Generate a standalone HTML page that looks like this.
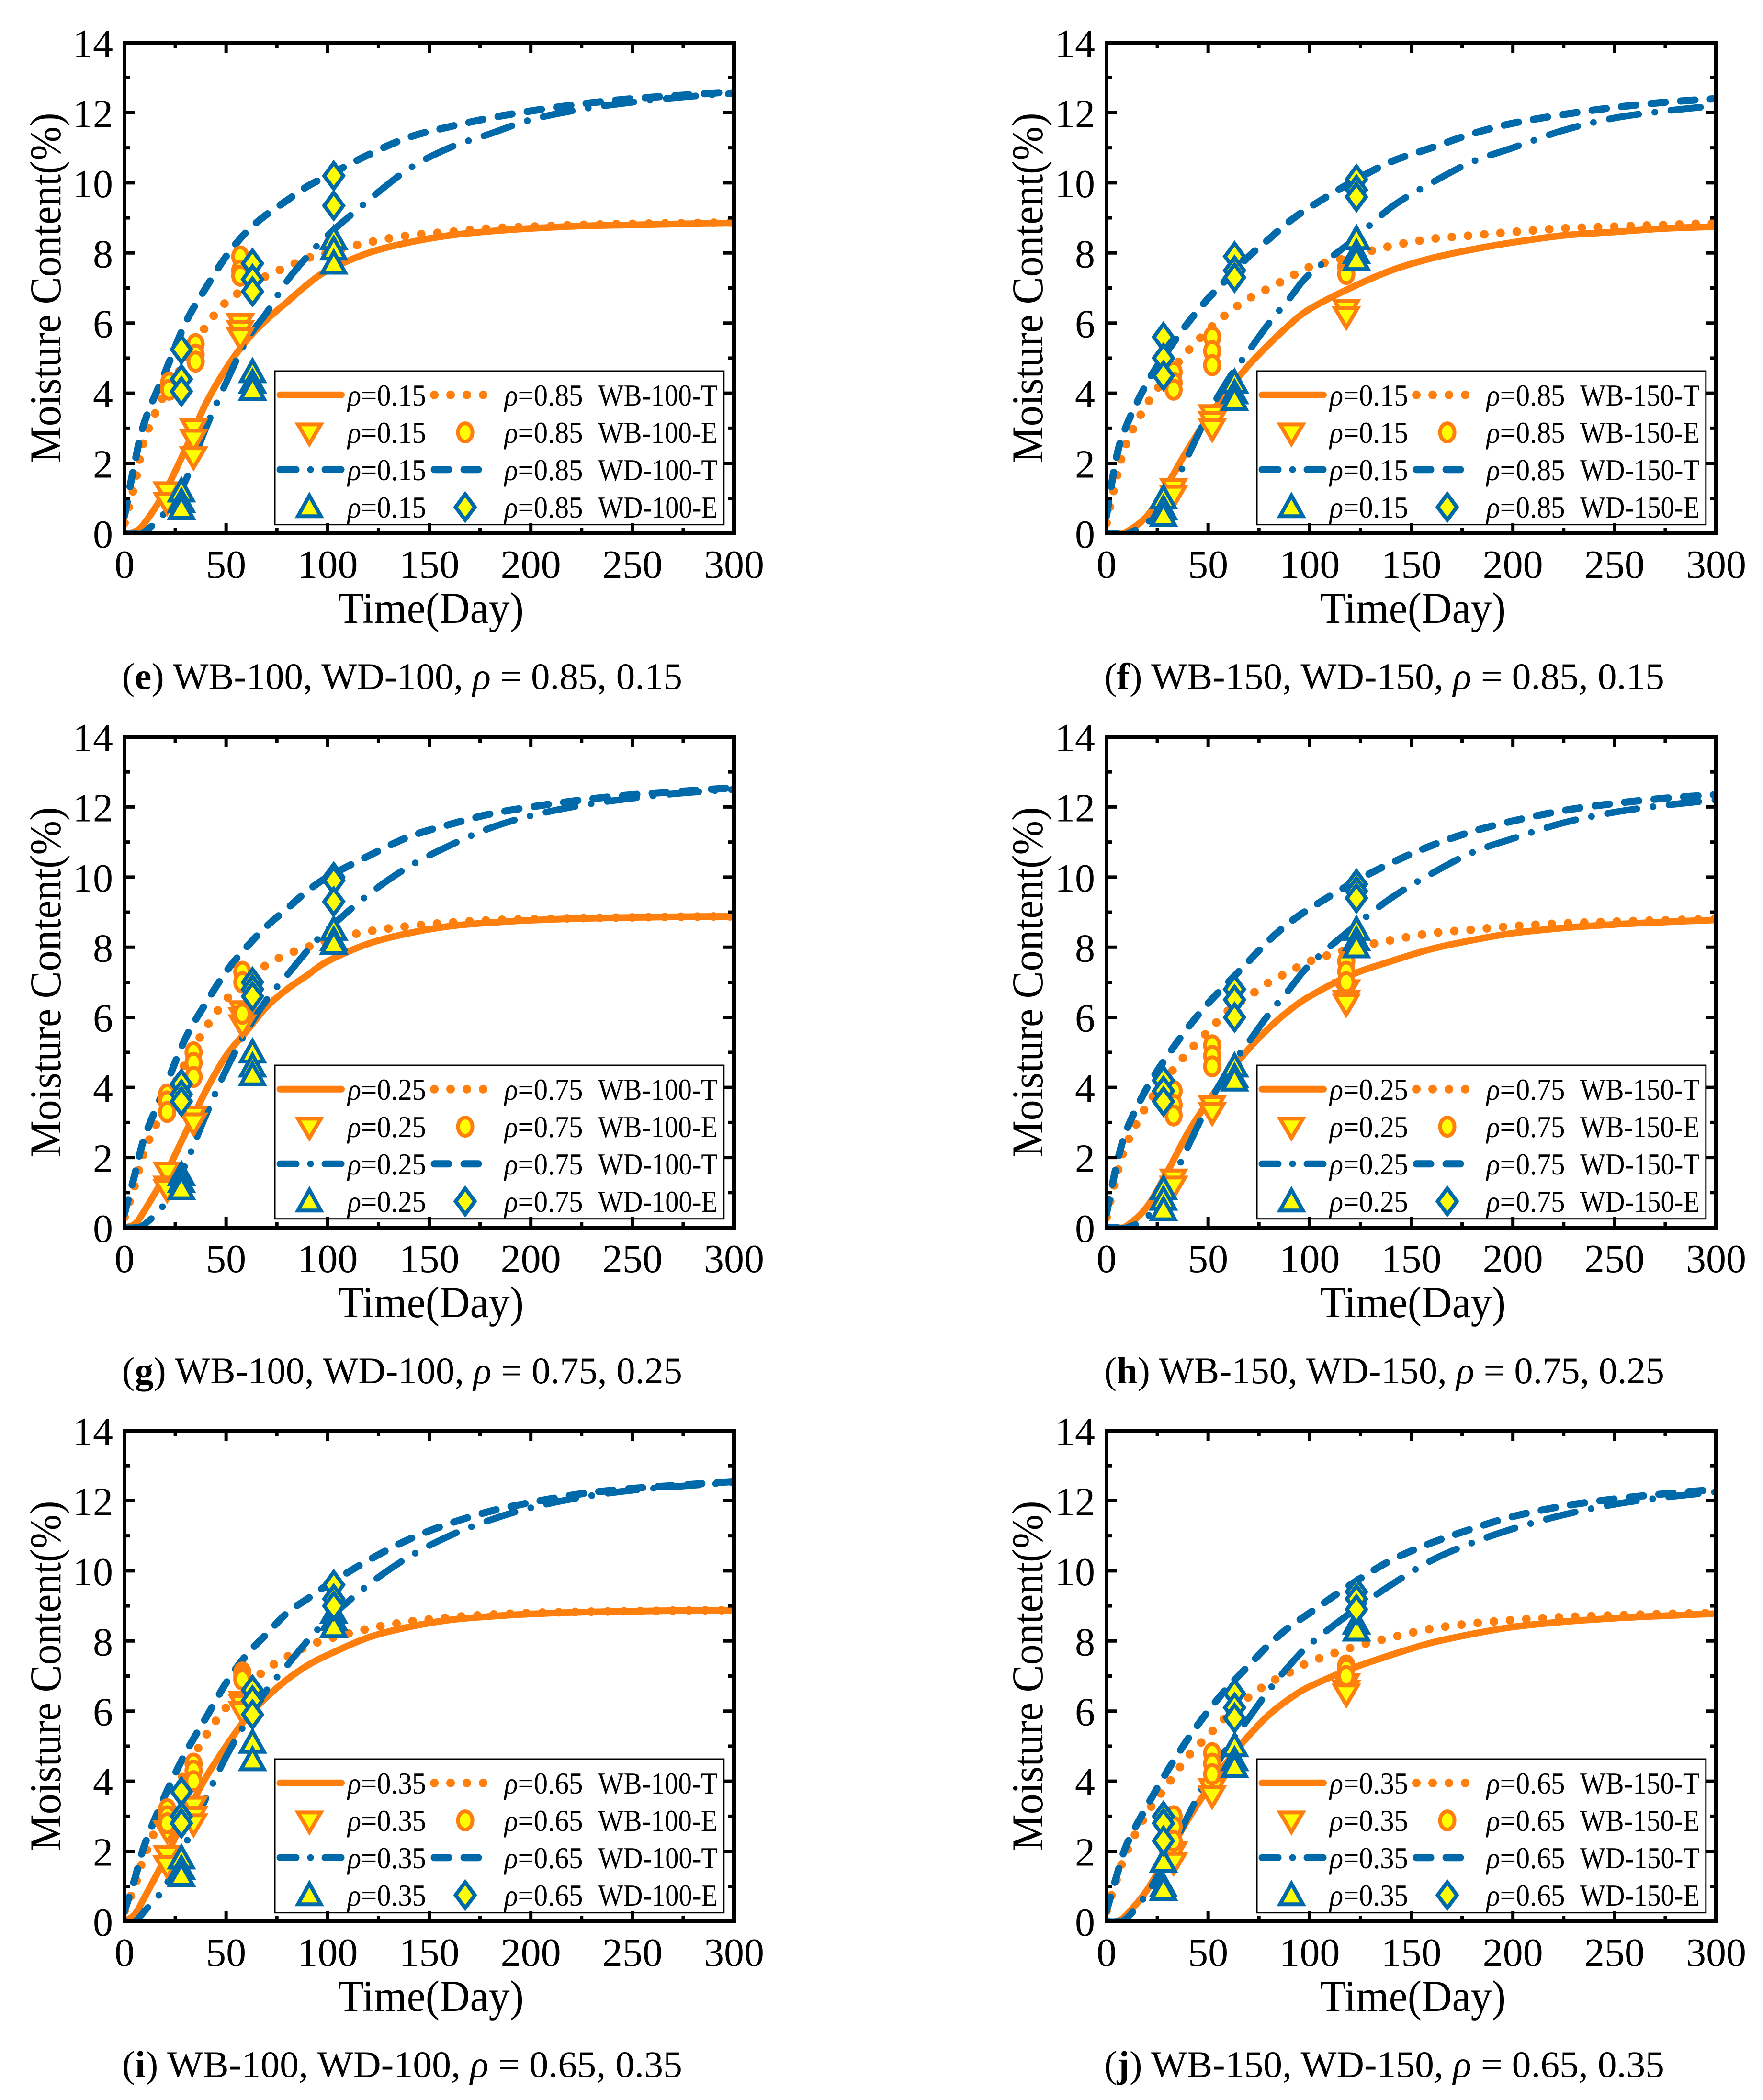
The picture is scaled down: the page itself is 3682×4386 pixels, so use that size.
<!DOCTYPE html>
<html><head><meta charset="utf-8">
<style>
html,body{margin:0;padding:0;background:#fff;}
svg{display:block;font-family:"Liberation Serif",serif;}
</style></head>
<body>
<svg id="fig" xmlns="http://www.w3.org/2000/svg" width="3682" height="4386" viewBox="0 0 3682 4386">
<rect width="3682" height="4386" fill="#fff"/>
</svg>
<script>
// ---- data ----
const days = [0,5,10,20,30,40,50,60,70,80,90,100,120,140,160,180,200,225,250,275,300];
const xTicks = [0,50,100,150,200,250,300];
const yTicks = [0,2,4,6,8,10,12,14];
const panelLetters = ['e','f','g','h','i','j'];
const panelSizes = ['100','150','100','150','100','150'];
const rhoLow = ['0.15','0.15','0.25','0.25','0.35','0.35'];
const rhoHigh = ['0.85','0.85','0.75','0.75','0.65','0.65'];

const wbLowCurve = [
 [0,0.05,0.3,1.2,2.4,3.7,4.7,5.5,6.1,6.6,7.1,7.5,8.0,8.3,8.5,8.62,8.7,8.77,8.8,8.83,8.85],
 [0,0,0.05,0.5,1.4,2.4,3.3,4.1,4.8,5.4,5.95,6.4,7.0,7.5,7.85,8.1,8.3,8.5,8.6,8.7,8.75],
 [0,0.1,0.5,1.5,2.7,3.9,4.9,5.6,6.3,6.8,7.2,7.6,8.1,8.4,8.6,8.7,8.77,8.82,8.85,8.87,8.88],
 [0,0,0.05,0.6,1.6,2.7,3.6,4.4,5.1,5.7,6.2,6.6,7.2,7.6,7.95,8.2,8.4,8.55,8.65,8.72,8.78],
 [0,0.2,0.7,1.8,3.0,4.1,5.0,5.8,6.4,6.9,7.3,7.6,8.1,8.4,8.6,8.7,8.77,8.82,8.85,8.87,8.88],
 [0,0,0.2,0.9,1.9,2.9,3.8,4.6,5.3,5.9,6.35,6.7,7.2,7.6,7.95,8.2,8.4,8.55,8.65,8.72,8.78]];
const wbHighCurve = [
 [0.3,1.4,2.7,4.0,4.9,5.9,6.6,7.0,7.35,7.6,7.85,8.0,8.3,8.5,8.6,8.7,8.75,8.8,8.83,8.85,8.87],
 [0.3,1.6,2.6,3.7,4.5,5.2,5.8,6.3,6.7,7.0,7.3,7.6,7.9,8.2,8.4,8.5,8.6,8.7,8.75,8.8,8.85],
 [0.3,1.2,2.2,3.5,4.7,5.7,6.5,7.1,7.5,7.8,8.0,8.2,8.45,8.6,8.7,8.77,8.8,8.83,8.85,8.87,8.88],
 [0.3,1.5,2.4,3.5,4.3,5.0,5.6,6.2,6.6,7.0,7.3,7.6,7.95,8.2,8.4,8.5,8.6,8.68,8.73,8.77,8.8],
 [0.3,1.0,1.9,3.2,4.3,5.3,6.1,6.7,7.2,7.55,7.85,8.05,8.35,8.55,8.67,8.75,8.8,8.83,8.85,8.87,8.88],
 [0.3,1.2,2.0,3.1,3.9,4.7,5.3,5.9,6.4,6.8,7.1,7.4,7.8,8.1,8.35,8.5,8.6,8.68,8.73,8.77,8.8]];
const wdLowCurve = [
 [0,0,0.05,0.6,1.5,3.0,4.3,5.5,6.3,7.2,7.9,8.5,9.5,10.4,11.0,11.4,11.8,12.1,12.3,12.45,12.55],
 [0,0,0,0.3,1.0,2.2,3.4,4.4,5.2,6.0,6.7,7.4,8.3,9.3,10.0,10.6,11.0,11.5,11.85,12.05,12.2],
 [0,0,0.1,0.7,1.8,3.2,4.5,5.6,6.5,7.2,7.9,8.5,9.5,10.3,10.9,11.4,11.75,12.05,12.25,12.4,12.5],
 [0,0,0,0.3,1.1,2.3,3.5,4.5,5.3,6.1,6.8,7.5,8.5,9.4,10.1,10.7,11.1,11.55,11.85,12.05,12.2],
 [0,0,0.3,1.0,2.2,3.5,4.7,5.7,6.6,7.3,8.0,8.6,9.6,10.4,11.0,11.45,11.8,12.1,12.3,12.42,12.52],
 [0,0,0.1,0.8,1.8,3.0,4.1,5.0,5.8,6.6,7.3,7.9,8.8,9.6,10.3,10.8,11.2,11.6,11.9,12.1,12.25]];
const wdHighCurve = [
 [0.5,2.0,3.2,4.6,6.0,7.0,7.9,8.6,9.1,9.5,9.9,10.2,10.8,11.3,11.6,11.85,12.05,12.25,12.4,12.5,12.6],
 [0.5,2.2,3.1,4.3,5.2,6.0,6.7,7.3,7.9,8.4,8.9,9.3,10.0,10.6,11.0,11.4,11.7,11.95,12.15,12.3,12.4],
 [0.4,1.5,2.6,4.0,5.4,6.4,7.3,8.0,8.6,9.1,9.6,10.0,10.6,11.15,11.5,11.8,12.0,12.2,12.35,12.45,12.55],
 [0.4,1.8,2.8,4.0,4.9,5.7,6.4,7.0,7.6,8.2,8.7,9.1,9.8,10.4,10.9,11.3,11.6,11.9,12.1,12.25,12.35],
 [0.3,1.2,2.2,3.6,4.8,5.8,6.8,7.6,8.2,8.8,9.2,9.6,10.3,10.9,11.35,11.7,11.95,12.2,12.35,12.45,12.55],
 [0.3,1.3,2.2,3.3,4.3,5.2,6.0,6.7,7.3,7.9,8.4,8.8,9.6,10.3,10.8,11.2,11.55,11.85,12.05,12.2,12.32]];

const wbLowPts = [
 [[21,1.2],[21,0.9],[34,3.0],[34,2.7],[34,2.2],[57,6.0],[57,5.8],[57,5.6]],
 [[33,1.3],[33,1.1],[52,3.4],[52,3.2],[52,3.0],[118,6.4],[118,6.2]],
 [[21,1.6],[21,1.2],[21,1.1],[34,3.2],[34,3.0],[58,6.2],[58,6.0],[58,5.8]],
 [[33,1.4],[33,1.2],[52,3.5],[52,3.3],[118,6.8],[118,6.5],[118,6.4]],
 [[21,2.6],[21,1.9],[21,1.6],[34,3.3],[34,3.0],[34,2.8],[58,6.3],[58,6.2],[58,6.0]],
 [[33,2.0],[33,1.7],[52,3.8],[52,3.6],[118,6.8],[118,6.6],[118,6.5]]];
const wbHighPts = [
 [[22,4.3],[22,4.1],[35,5.4],[35,5.1],[35,4.9],[57,7.9],[57,7.5],[57,7.35]],
 [[33,4.6],[33,4.3],[33,4.1],[52,5.6],[52,5.2],[52,4.8],[118,7.6],[118,7.4]],
 [[21,3.8],[21,3.6],[21,3.3],[34,5.0],[34,4.7],[34,4.3],[58,7.3],[58,7.0],[58,6.1]],
 [[33,3.9],[33,3.5],[33,3.2],[52,5.2],[52,4.9],[52,4.6],[118,7.6],[118,7.3],[118,7.0]],
 [[21,3.2],[21,3.0],[21,2.8],[34,4.5],[34,4.3],[34,4.0],[58,7.1],[58,7.0],[58,6.9]],
 [[33,3.0],[33,2.7],[33,2.3],[52,4.8],[52,4.5],[52,4.2],[118,7.3],[118,7.2],[118,7.0]]];
const wdLowPts = [
 [[28,1.2],[28,0.9],[28,0.7],[63,4.6],[63,4.3],[63,4.1],[103,8.4],[103,8.1],[103,7.7]],
 [[28,1.0],[28,0.7],[28,0.5],[63,4.3],[63,4.0],[63,3.8],[123,8.4],[123,8.0],[123,7.8]],
 [[28,1.5],[28,1.3],[28,1.1],[63,5.0],[63,4.6],[63,4.35],[103,8.5],[103,8.2],[103,8.1]],
 [[28,1.1],[28,0.8],[28,0.5],[63,4.6],[63,4.3],[63,4.2],[123,8.5],[123,8.2],[123,8.0]],
 [[28,1.8],[28,1.5],[28,1.3],[63,5.1],[63,4.6],[103,8.8],[103,8.6],[103,8.4]],
 [[28,1.7],[28,1.0],[28,0.9],[63,5.0],[63,4.6],[63,4.4],[123,8.5],[123,8.3]]];
const wdHighPts = [
 [[28,5.25],[28,4.4],[28,4.05],[63,7.7],[63,7.25],[63,6.9],[103,10.2],[103,9.35]],
 [[28,5.6],[28,5.0],[28,4.5],[63,7.9],[63,7.5],[63,7.3],[123,10.1],[123,9.8],[123,9.6]],
 [[28,4.1],[28,3.8],[28,3.6],[63,7.0],[63,6.8],[63,6.6],[103,10.0],[103,9.9],[103,9.3]],
 [[28,4.2],[28,3.9],[28,3.6],[63,6.8],[63,6.5],[63,6.0],[123,9.8],[123,9.6],[123,9.4]],
 [[28,3.7],[28,3.0],[28,2.8],[63,6.6],[63,6.3],[63,5.9],[103,9.6],[103,9.2],[103,9.0]],
 [[28,3.0],[28,2.8],[28,2.3],[63,6.5],[63,6.1],[63,5.8],[123,9.4],[123,9.2],[123,8.9]]];

// ---- drawing ----
const NS = 'http://www.w3.org/2000/svg';
const svg = document.getElementById('fig');
const ORANGE = '#FF7F0E', BLUE = '#0069AA', YEL = '#FFFF00';
const colX = [260, 2311], rowY = [89, 1539, 2988];
const W = 1273, H = 1025, XMAX = 300, YMAX = 14;

function mk(tag, attrs, parent) {
  const e = document.createElementNS(NS, tag);
  for (const k in attrs) e.setAttribute(k, attrs[k]);
  (parent || svg).appendChild(e);
  return e;
}
function smoothPath(pts) {
  let d = 'M' + pts[0][0].toFixed(1) + ',' + pts[0][1].toFixed(1);
  for (let i = 0; i < pts.length - 1; i++) {
    const p0 = pts[Math.max(0, i - 1)], p1 = pts[i], p2 = pts[i + 1], p3 = pts[Math.min(pts.length - 1, i + 2)];
    const c1x = p1[0] + (p2[0] - p0[0]) / 6, c1y = p1[1] + (p2[1] - p0[1]) / 6;
    const c2x = p2[0] - (p3[0] - p1[0]) / 6, c2y = p2[1] - (p3[1] - p1[1]) / 6;
    d += 'C' + c1x.toFixed(1) + ',' + c1y.toFixed(1) + ' ' + c2x.toFixed(1) + ',' + c2y.toFixed(1) + ' ' + p2[0].toFixed(1) + ',' + p2[1].toFixed(1);
  }
  return d;
}
const styles = {
  solid: {stroke: ORANGE, 'stroke-width': 14, fill: 'none', 'stroke-linecap': 'round'},
  dotted: {stroke: ORANGE, 'stroke-width': 18, fill: 'none', 'stroke-linecap': 'round', 'stroke-dasharray': '0 34'},
  dashdot: {stroke: BLUE, 'stroke-width': 14, fill: 'none', 'stroke-linecap': 'round', 'stroke-dasharray': '62 34 0 34'},
  dashed: {stroke: BLUE, 'stroke-width': 15, fill: 'none', 'stroke-linecap': 'round', 'stroke-dasharray': '30 32'}
};
function marker(g, type, x, y) {
  const s = 24;
  if (type === 'down') {
    mk('polygon', {points: `${x-s},${y-s*0.7} ${x+s},${y-s*0.7} ${x},${y+s*1.0}`, fill: YEL, stroke: ORANGE, 'stroke-width': 8}, g);
  } else if (type === 'circle') {
    mk('ellipse', {cx: x, cy: y, rx: 15, ry: 19, fill: YEL, stroke: ORANGE, 'stroke-width': 8}, g);
  } else if (type === 'up') {
    mk('polygon', {points: `${x-s},${y+s*0.8} ${x+s},${y+s*0.8} ${x},${y-s*1.0}`, fill: YEL, stroke: BLUE, 'stroke-width': 8}, g);
  } else {
    mk('polygon', {points: `${x},${y-27} ${x+20},${y} ${x},${y+27} ${x-20},${y}`, fill: YEL, stroke: BLUE, 'stroke-width': 8}, g);
  }
}

for (let p = 0; p < 6; p++) {
  const x0 = colX[p % 2], y0 = rowY[Math.floor(p / 2)];
  const sx = d => x0 + d / XMAX * W;
  const sy = v => y0 + H - v / YMAX * H;
  const g = mk('g', {});
  
  

  const clipId = 'clip' + p;
  const cp = mk('clipPath', {id: clipId}, g);
  mk('rect', {x: x0, y: y0, width: W, height: H}, cp);

  const curveSets = [[wbLowCurve, 'solid', 'wb-low-theory-curve'], [wbHighCurve, 'dotted', 'wb-high-theory-curve'], [wdLowCurve, 'dashdot', 'wd-low-theory-curve'], [wdHighCurve, 'dashed', 'wd-high-theory-curve']];
  curveSets.forEach(cs => {
    const pts = days.map((d, i) => [sx(d), sy(cs[0][p][i])]);
    const a = Object.assign({d: smoothPath(pts), 'clip-path': 'url(#' + clipId + ')'}, styles[cs[1]]);
    const path = mk('path', a, g);
    
    
  });
  const ptSets = [[wbLowPts, 'down', 'wb-low-exp-point'], [wbHighPts, 'circle', 'wb-high-exp-point'], [wdLowPts, 'up', 'wd-low-exp-point'], [wdHighPts, 'diamond', 'wd-high-exp-point']];
  ptSets.forEach(ps => {
    ps[0][p].forEach(pt => {
      const mg = mk('g', {}, g);
      
      
      marker(mg, ps[1], sx(pt[0]), sy(pt[1]));
    });
  });

  // legend
  const lg = mk('g', {}, g);
  
  
  mk('rect', {x: sx(74), y: sy(4.63), width: sx(295) - sx(74), height: sy(0.25) - sy(4.63), fill: '#fff', stroke: '#000', 'stroke-width': 3}, lg);
  const rowsV = [3.95, 2.88, 1.82, 0.75];
  const sz = panelSizes[p];
  const labels3 = ['WB-' + sz + '-T', 'WB-' + sz + '-E', 'WD-' + sz + '-T', 'WD-' + sz + '-E'];
  const samples = [['solid', 'dotted'], ['down', 'circle'], ['dashdot', 'dashed'], ['up', 'diamond']];
  rowsV.forEach((rv, r) => {
    const yy = sy(rv);
    const ent = mk('g', {}, lg);
    
    
    [[74.6, 107.7, 91, 0], [150.6, 178, 167.7, 1]].forEach(c => {
      const t = samples[r][c[3]];
      if (styles[t]) {
        const a = Object.assign({d: `M${sx(c[0]) + 8},${yy}L${sx(c[1]) - 4},${yy}`}, styles[t]);
        if (t === 'dashdot') a['stroke-dasharray'] = '34 30 0 30';
        mk('path', a, ent);
      } else {
        marker(ent, t, sx(c[2]), yy);
      }
    });
    const mkTxt = (d, val) => {
      const t = mk('text', {x: sx(d), y: yy + 22, 'font-size': 64, textLength: 164, lengthAdjust: 'spacingAndGlyphs'}, ent);
      const r1 = mk('tspan', {'font-style': 'italic'}, t); r1.textContent = 'ρ';
      const r2 = mk('tspan', {}, t); r2.textContent = '=' + val;
    };
    mkTxt(109.8, rhoLow[p]);
    mkTxt(187, rhoHigh[p]);
    const t3 = mk('text', {x: sx(233), y: yy + 22, 'font-size': 64, textLength: 250, lengthAdjust: 'spacingAndGlyphs'}, ent);
    t3.textContent = labels3[r];
  });

  // axes frame
  const fr = mk('rect', {x: x0, y: y0, width: W, height: H, fill: 'none', stroke: '#000', 'stroke-width': 8}, g);
  
  
  const ticks = mk('g', {stroke: '#000', 'stroke-width': 7}, g);
  
  
  for (let d = 0; d <= XMAX; d += 25) {
    const L = d % 50 === 0 ? 22 : 12, X = sx(d);
    mk('line', {x1: X, y1: y0 + H, x2: X, y2: y0 + H - L}, ticks);
    mk('line', {x1: X, y1: y0, x2: X, y2: y0 + L}, ticks);
  }
  for (let v = 0; v <= YMAX; v += 1) {
    const L = v % 2 === 0 ? 22 : 12, Y = sy(v);
    mk('line', {x1: x0, y1: Y, x2: x0 + L, y2: Y}, ticks);
    mk('line', {x1: x0 + W, y1: Y, x2: x0 + W - L, y2: Y}, ticks);
  }
  xTicks.forEach(d => {
    const t = mk('text', {x: sx(d), y: y0 + H + 93, 'font-size': 84, 'text-anchor': 'middle'}, g);
    
    
    t.textContent = String(d);
  });
  yTicks.forEach(v => {
    const t = mk('text', {x: x0 - 24, y: sy(v) + 30, 'font-size': 84, 'text-anchor': 'end'}, g);
    
    
    t.textContent = String(v);
  });
  const xt = mk('text', {x: x0 + 640, y: y0 + H + 187, 'font-size': 92, 'text-anchor': 'middle', textLength: 388, lengthAdjust: 'spacingAndGlyphs'}, g);
  
  
  xt.textContent = 'Time(Day)';
  const yt = mk('text', {x: 0, y: 0, 'font-size': 92, 'text-anchor': 'middle', textLength: 731, lengthAdjust: 'spacingAndGlyphs', transform: `translate(${x0 - 134},${y0 + 512}) rotate(-90)`}, g);
  
  
  yt.textContent = 'Moisture Content(%)';

  const cap = mk('text', {x: x0 + 580, y: y0 + 1350, 'font-size': 78, 'text-anchor': 'middle', textLength: 1170, lengthAdjust: 'spacingAndGlyphs'}, g);
  
  
  const c1 = mk('tspan', {}, cap); c1.textContent = '(';
  const c2 = mk('tspan', {'font-weight': 'bold'}, cap); c2.textContent = panelLetters[p];
  const c3 = mk('tspan', {}, cap); c3.textContent = ') WB-' + sz + ', WD-' + sz + ', ';
  const c4 = mk('tspan', {'font-style': 'italic'}, cap); c4.textContent = 'ρ';
  const c5 = mk('tspan', {}, cap); c5.textContent = ' = ' + rhoHigh[p] + ', ' + rhoLow[p];
}
</script>
</body></html>
